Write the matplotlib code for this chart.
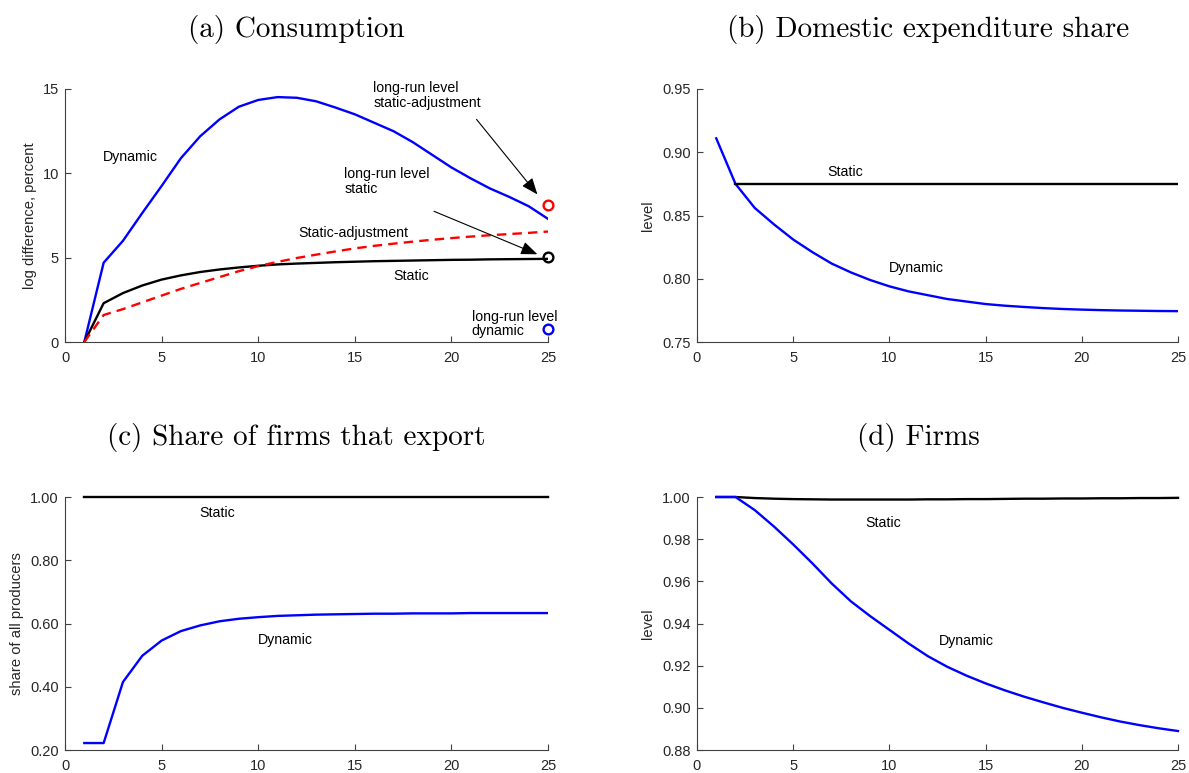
import matplotlib
matplotlib.use("Agg")
import matplotlib.pyplot as plt
from matplotlib.ticker import FormatStrFormatter, MultipleLocator

plt.rcParams['font.family'] = ['Liberation Sans', 'DejaVu Sans']

periods = list(range(1, 26))

# (a) Consumption, log difference in percent
cons_dynamic = [0.0, 4.7, 6.0, 7.65, 9.25, 10.9, 12.2, 13.2, 13.95, 14.35, 14.52, 14.48,
                14.27, 13.9, 13.5, 13.0, 12.5, 11.85, 11.1, 10.35, 9.7, 9.1, 8.6, 8.05, 7.3]
cons_static = [0.0, 2.3, 2.9, 3.35, 3.7, 3.95, 4.15, 4.3, 4.42, 4.52, 4.6, 4.65, 4.69,
               4.73, 4.76, 4.79, 4.81, 4.83, 4.85, 4.87, 4.88, 4.9, 4.91, 4.92, 4.93]
cons_static_adj = [0.0, 1.6, 1.95, 2.35, 2.75, 3.15, 3.5, 3.85, 4.2, 4.5, 4.75, 4.98, 5.18,
                   5.37, 5.55, 5.7, 5.83, 5.95, 6.06, 6.16, 6.25, 6.33, 6.4, 6.47, 6.55]
lr_static_adj = 8.15
lr_static = 5.05
lr_dynamic = 0.75

# (b) Domestic expenditure share
dom_dynamic = [0.911, 0.875, 0.856, 0.843, 0.831, 0.821, 0.812, 0.805, 0.799, 0.794, 0.790,
               0.787, 0.784, 0.782, 0.780, 0.7787, 0.7777, 0.7768, 0.7761, 0.7756, 0.7752,
               0.7749, 0.7747, 0.7745, 0.7744]
dom_static_periods = list(range(2, 26))
dom_static = [0.875] * 24

# (c) Share of firms that export
exp_dynamic = [0.222, 0.222, 0.415, 0.498, 0.546, 0.576, 0.594, 0.607, 0.615, 0.620, 0.624,
               0.626, 0.628, 0.629, 0.630, 0.631, 0.631, 0.632, 0.632, 0.632, 0.633, 0.633,
               0.633, 0.633, 0.633]
exp_static = [1.0] * 25

# (d) Firms
firm_dynamic = [1.0, 1.0, 0.9938, 0.986, 0.9775, 0.9685, 0.959, 0.9505, 0.9435, 0.937,
                0.9305, 0.9245, 0.9195, 0.9153, 0.9116, 0.9083, 0.9053, 0.9026, 0.9,
                0.8977, 0.8955, 0.8935, 0.8918, 0.8903, 0.889]
firm_static = [1.0, 1.0, 0.9995, 0.9992, 0.999, 0.9989, 0.9988, 0.9988, 0.9988, 0.9988,
               0.9988, 0.9989, 0.9989, 0.999, 0.999, 0.9991, 0.9992, 0.9992, 0.9993,
               0.9993, 0.9994, 0.9994, 0.9995, 0.9995, 0.9996]

BLUE = '#0000ff'
RED = '#ff0000'
AXC = '#404040'
LW = 1.7
TFS = 10.2
LFS = 10.6

W, H = 1189, 773
fig = plt.figure(figsize=(W / 100, H / 100), dpi=100)


def make_ax(x0, x1, ytop, ybot, ylabel, label_x):
    ax = fig.add_axes([x0 / W, 1 - ybot / H, (x1 - x0) / W, (ybot - ytop) / H])
    for s in ['top', 'right']:
        ax.spines[s].set_visible(False)
    for s in ['left', 'bottom']:
        ax.spines[s].set_color(AXC)
        ax.spines[s].set_linewidth(0.8)
    ax.tick_params(direction='in', length=4, width=0.8, color=AXC,
                   labelsize=10.5, labelcolor='#262626')
    ax.tick_params(axis='x', pad=6.5)
    ax.tick_params(axis='y', pad=4.5)
    ax.set_xlim(0, 25)
    ax.xaxis.set_major_locator(MultipleLocator(5))
    ax.set_ylabel(ylabel, fontsize=LFS, color='#262626')
    # label_x is the pixel centre of the rotated label; anchor is its right edge
    ax.yaxis.set_label_coords((label_x + 7 - x0) / (x1 - x0), 0.5)
    return ax


xa0, xa1, xb0, xb1 = 65, 548, 697, 1178
yt0, yb0, yt1, yb1 = 89, 342, 497, 750

# (a)
ax = make_ax(xa0, xa1, yt0, yb0, 'log difference, percent', 30)
ax.plot(periods, cons_dynamic, color=BLUE, lw=LW)
ax.plot(periods, cons_static, color='k', lw=LW)
ax.plot(periods, cons_static_adj, color=RED, lw=LW, dashes=(4, 2.6))
ax.plot([25], [lr_static_adj], 'o', mfc='none', mec=RED, mew=1.7, ms=7, clip_on=False)
ax.plot([25], [lr_static], 'o', mfc='none', mec='k', mew=1.7, ms=7, clip_on=False)
ax.plot([25], [lr_dynamic], 'o', mfc='none', mec=BLUE, mew=1.7, ms=7, clip_on=False)
ax.set_ylim(0, 15)
ax.yaxis.set_major_locator(MultipleLocator(5))
ax.text(3.4, 10.95, 'Dynamic', fontsize=TFS, ha='center', va='center')
ax.text(14.9, 6.45, 'Static-adjustment', fontsize=TFS, ha='center', va='center')
ax.text(17.9, 3.9, 'Static', fontsize=TFS, ha='center', va='center')
ax.text(15.95, 14.6, 'long-run level\nstatic-adjustment', fontsize=TFS, ha='left',
        va='center', linespacing=1.05)
ax.text(14.45, 9.5, 'long-run level\nstatic', fontsize=TFS, ha='left', va='center',
        linespacing=1.05)
ax.text(21.05, 1.05, 'long-run level\ndynamic', fontsize=TFS, ha='left', va='center',
        linespacing=1.0)
arrow = dict(arrowstyle='-|>,head_length=1.0,head_width=0.4', color='k', lw=0.8,
             shrinkA=0, shrinkB=0)
ax.annotate('', xy=(24.45, 8.75), xytext=(21.3, 13.2), arrowprops=arrow, annotation_clip=False)
ax.annotate('', xy=(24.45, 5.2), xytext=(19.1, 7.75), arrowprops=arrow, annotation_clip=False)

# (b)
ax = make_ax(xb0, xb1, yt0, yb0, 'level', 648)
ax.plot(periods, dom_dynamic, color=BLUE, lw=LW)
ax.plot(dom_static_periods, dom_static, color='k', lw=LW)
ax.set_ylim(0.75, 0.95)
ax.yaxis.set_major_locator(MultipleLocator(0.05))
ax.yaxis.set_major_formatter(FormatStrFormatter('%.2f'))
ax.text(7.7, 0.884, 'Static', fontsize=TFS, ha='center', va='center')
ax.text(11.4, 0.8085, 'Dynamic', fontsize=TFS, ha='center', va='center')

# (c)
ax = make_ax(xa0, xa1, yt1, yb1, 'share of all producers', 17)
ax.plot(periods, exp_static, color='k', lw=LW, clip_on=False)
ax.plot(periods, exp_dynamic, color=BLUE, lw=LW)
ax.set_ylim(0.2, 1.0)
ax.yaxis.set_major_locator(MultipleLocator(0.2))
ax.yaxis.set_major_formatter(FormatStrFormatter('%.2f'))
ax.text(7.9, 0.949, 'Static', fontsize=TFS, ha='center', va='center')
ax.text(11.4, 0.548, 'Dynamic', fontsize=TFS, ha='center', va='center')

# (d)
ax = make_ax(xb0, xb1, yt1, yb1, 'level', 648)
ax.plot(periods, firm_static, color='k', lw=LW, clip_on=False)
ax.plot(periods, firm_dynamic, color=BLUE, lw=LW, clip_on=False)
ax.set_ylim(0.88, 1.0)
ax.yaxis.set_major_locator(MultipleLocator(0.02))
ax.yaxis.set_major_formatter(FormatStrFormatter('%.2f'))
ax.text(9.7, 0.9877, 'Static', fontsize=TFS, ha='center', va='center')
ax.text(14.0, 0.9317, 'Dynamic', fontsize=TFS, ha='center', va='center')

# panel titles
TS = 21
fig.text(296 / W, 1 - 30 / H, '(a) Consumption', family='cmr10', fontsize=TS,
         ha='center', va='center')
fig.text(928 / W, 1 - 30 / H, '(b) Domestic expenditure share', family='cmr10', fontsize=TS,
         ha='center', va='center')
fig.text(296 / W, 1 - 437 / H, '(c) Share of firms that export', family='cmr10', fontsize=TS,
         ha='center', va='center')
fig.text(918 / W, 1 - 437 / H, '(d) Firms', family='cmr10', fontsize=TS,
         ha='center', va='center')

fig.savefig('out.png', dpi=100)
